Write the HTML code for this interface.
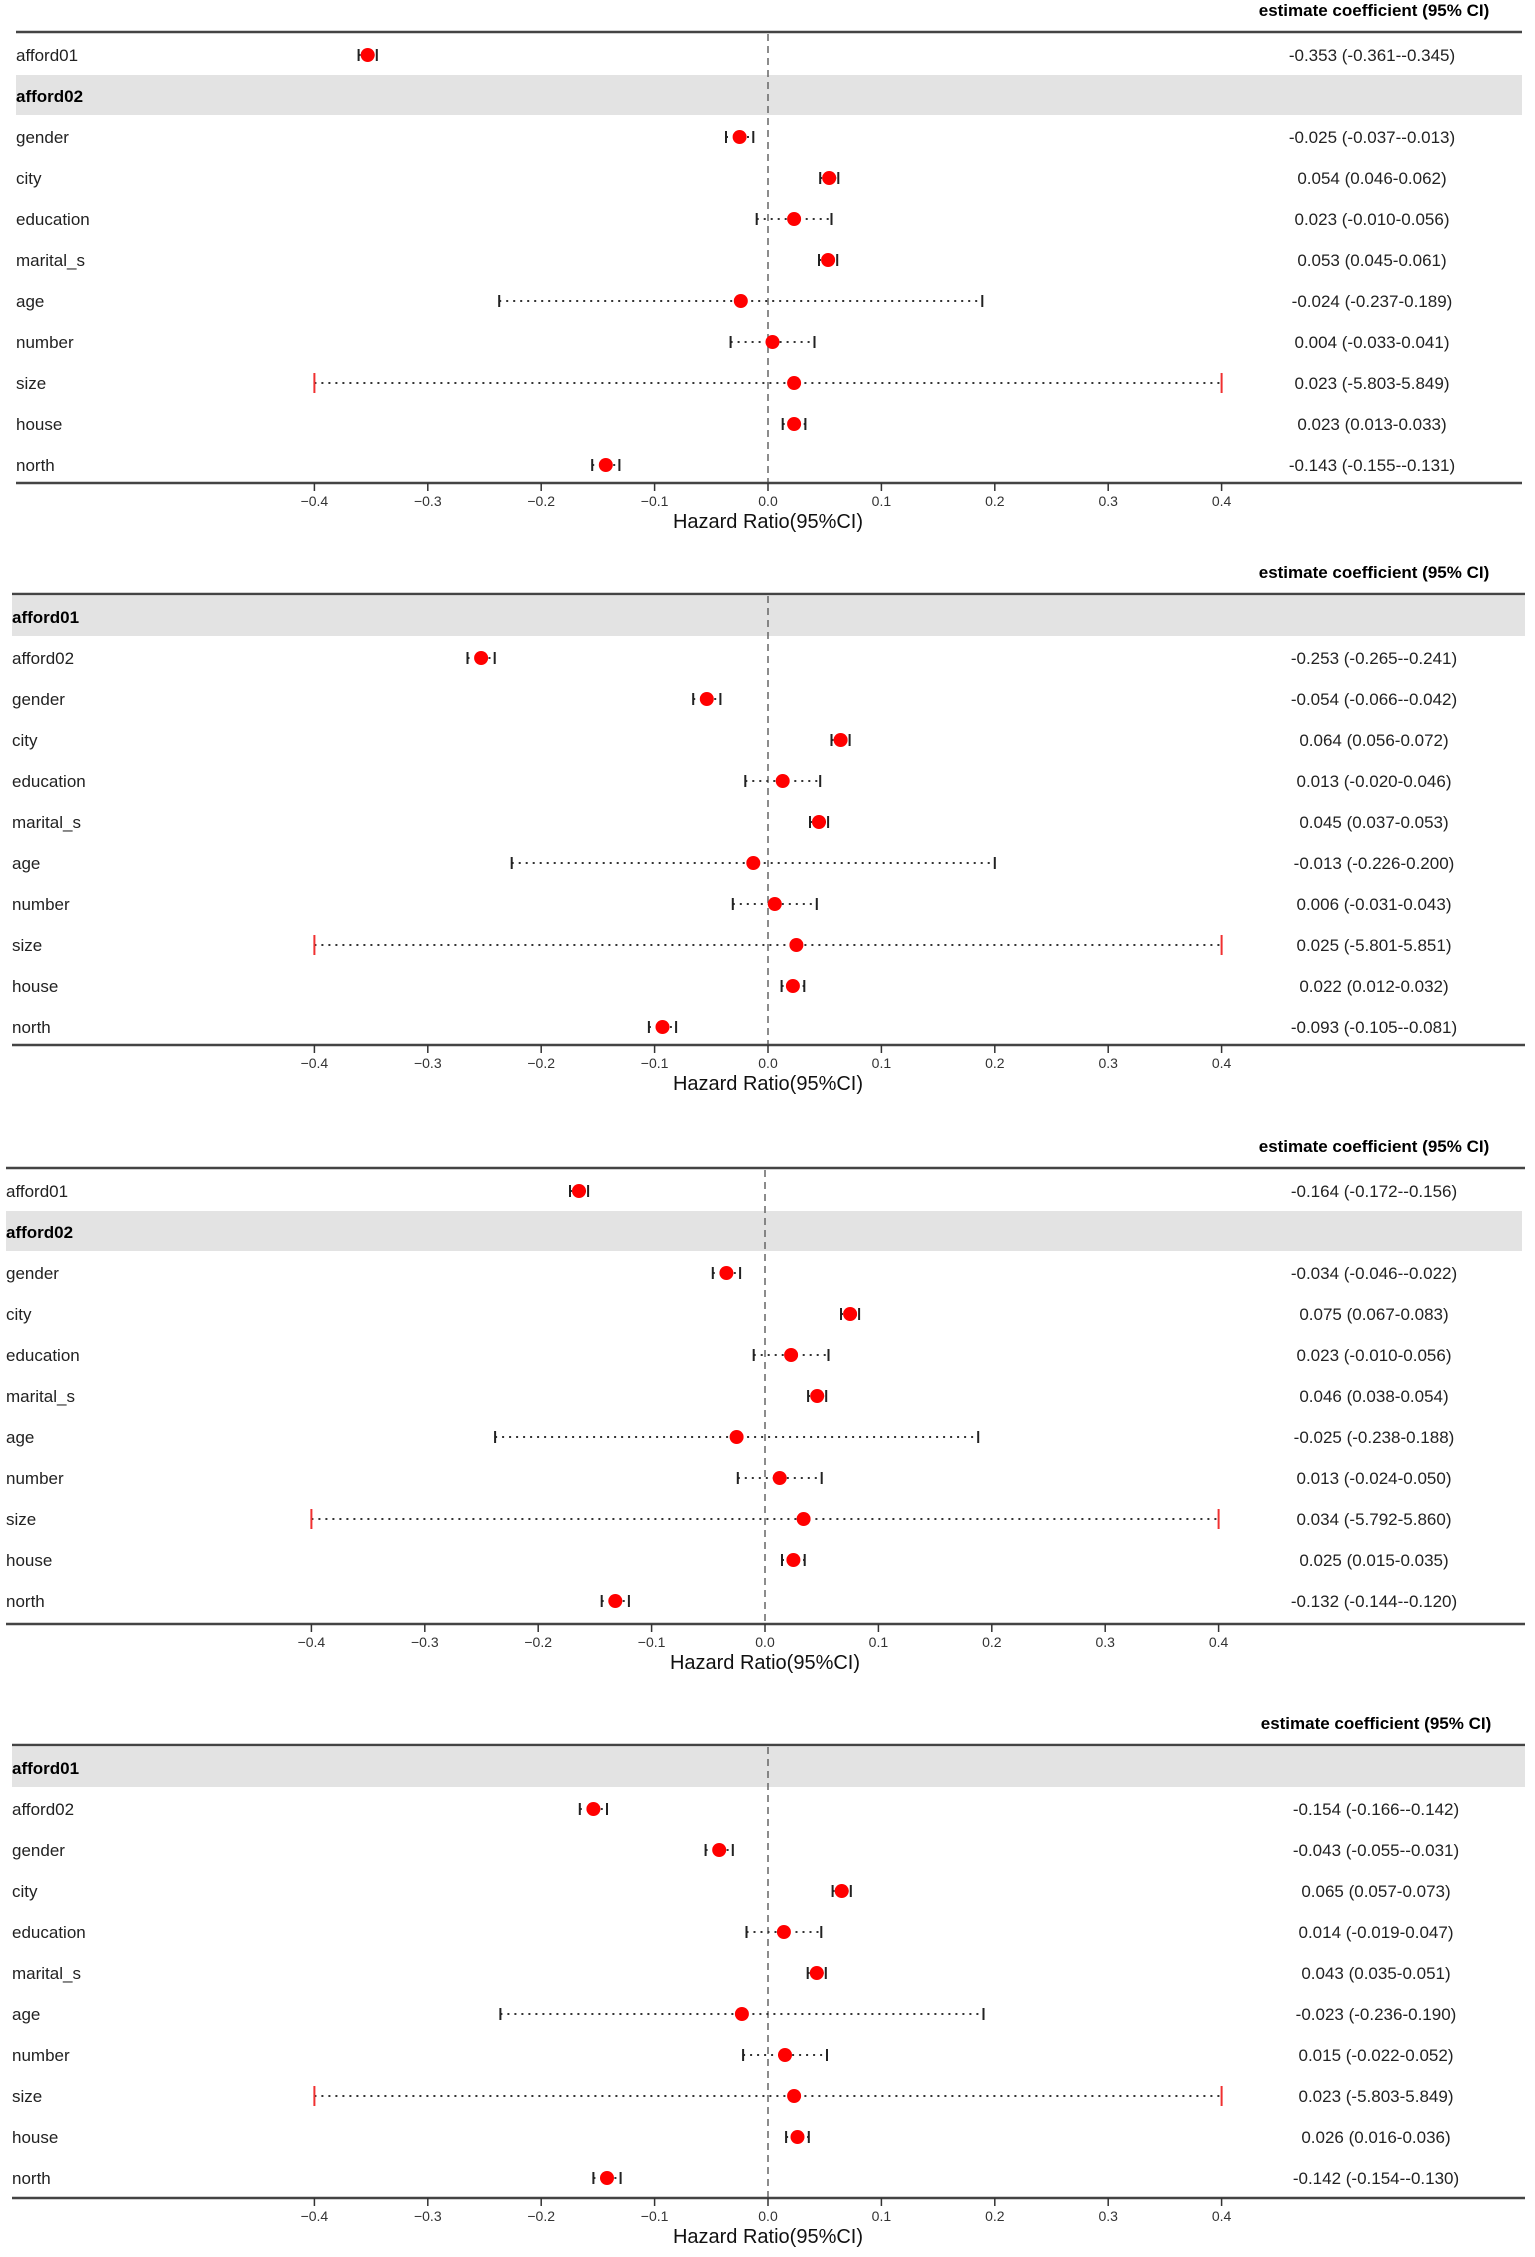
<!DOCTYPE html>
<html><head><meta charset="utf-8"><style>
html,body{margin:0;padding:0;background:#fff;}
svg{display:block;font-family:"Liberation Sans",Arial,sans-serif;}
.lab{font-size:17px;fill:#222;}
.b{font-weight:bold;fill:#000;}
.val{font-size:17px;fill:#222;text-anchor:middle;}
.hdr{font-size:17px;font-weight:bold;fill:#000;text-anchor:middle;}
.tk{font-size:14px;fill:#333;text-anchor:middle;}
.ax{font-size:20px;fill:#111;text-anchor:middle;}
.ci{stroke:#333;stroke-width:2;stroke-dasharray:2,5;}
.cap{stroke:#222;stroke-width:2;}
.rc{stroke:#f03030;stroke-width:2;}
.dot{fill:#ff0000;}
.hl{stroke:#444;stroke-width:2.5;}
.zero{stroke:#666;stroke-width:1.5;stroke-dasharray:7,5;}
.band{fill:#e3e3e3;}
</style></head><body>
<svg width="1535" height="2257" viewBox="0 0 1535 2257" xmlns="http://www.w3.org/2000/svg">

<!-- PANEL 1 -->
<g transform="translate(0,32)">
<text class="hdr" x="1374" y="-16">estimate coefficient (95% CI)</text>
<rect class="band" x="16" y="43" width="1506" height="40"/>
<line class="hl" x1="16" y1="0" x2="1522" y2="0"/>
<line class="zero" x1="768" y1="2" x2="768" y2="451"/>
<g>
<text class="lab" x="16" y="29">afford01</text>
<text class="lab b" x="16" y="70">afford02</text>
<text class="lab" x="16" y="111">gender</text>
<text class="lab" x="16" y="152">city</text>
<text class="lab" x="16" y="193">education</text>
<text class="lab" x="16" y="234">marital_s</text>
<text class="lab" x="16" y="275">age</text>
<text class="lab" x="16" y="316">number</text>
<text class="lab" x="16" y="357">size</text>
<text class="lab" x="16" y="398">house</text>
<text class="lab" x="16" y="439">north</text>
</g>
<g>
<text class="val" x="1372" y="29">-0.353 (-0.361--0.345)</text>
<text class="val" x="1372" y="111">-0.025 (-0.037--0.013)</text>
<text class="val" x="1372" y="152">0.054 (0.046-0.062)</text>
<text class="val" x="1372" y="193">0.023 (-0.010-0.056)</text>
<text class="val" x="1372" y="234">0.053 (0.045-0.061)</text>
<text class="val" x="1372" y="275">-0.024 (-0.237-0.189)</text>
<text class="val" x="1372" y="316">0.004 (-0.033-0.041)</text>
<text class="val" x="1372" y="357">0.023 (-5.803-5.849)</text>
<text class="val" x="1372" y="398">0.023 (0.013-0.033)</text>
<text class="val" x="1372" y="439">-0.143 (-0.155--0.131)</text>
</g>
<g>
<line class="ci" x1="358.6" y1="23" x2="376.8" y2="23"/><line class="cap" x1="358.6" y1="17" x2="358.6" y2="29"/><line class="cap" x1="376.8" y1="17" x2="376.8" y2="29"/><circle class="dot" cx="367.7" cy="23" r="7"/>
<line class="ci" x1="726" y1="105" x2="753.3" y2="105"/><line class="cap" x1="726" y1="99" x2="726" y2="111"/><line class="cap" x1="753.3" y1="99" x2="753.3" y2="111"/><circle class="dot" cx="739.6" cy="105" r="7"/>
<line class="ci" x1="820.2" y1="146" x2="838.3" y2="146"/><line class="cap" x1="820.2" y1="140" x2="820.2" y2="152"/><line class="cap" x1="838.3" y1="140" x2="838.3" y2="152"/><circle class="dot" cx="829.2" cy="146" r="7"/>
<line class="ci" x1="756.7" y1="187" x2="831.5" y2="187"/><line class="cap" x1="756.7" y1="181" x2="756.7" y2="193"/><line class="cap" x1="831.5" y1="181" x2="831.5" y2="193"/><circle class="dot" cx="794.1" cy="187" r="7"/>
<line class="ci" x1="819" y1="228" x2="837.2" y2="228"/><line class="cap" x1="819" y1="222" x2="819" y2="234"/><line class="cap" x1="837.2" y1="222" x2="837.2" y2="234"/><circle class="dot" cx="828.1" cy="228" r="7"/>
<line class="ci" x1="499.2" y1="269" x2="982.3" y2="269"/><line class="cap" x1="499.2" y1="263" x2="499.2" y2="275"/><line class="cap" x1="982.3" y1="263" x2="982.3" y2="275"/><circle class="dot" cx="740.8" cy="269" r="7"/>
<line class="ci" x1="730.6" y1="310" x2="814.5" y2="310"/><line class="cap" x1="730.6" y1="304" x2="730.6" y2="316"/><line class="cap" x1="814.5" y1="304" x2="814.5" y2="316"/><circle class="dot" cx="772.5" cy="310" r="7"/>
<line class="ci" x1="314.4" y1="351" x2="1221.6" y2="351"/><line class="rc" x1="314.4" y1="341" x2="314.4" y2="361"/><line class="rc" x1="1221.6" y1="341" x2="1221.6" y2="361"/><circle class="dot" cx="794.1" cy="351" r="7"/>
<line class="ci" x1="782.7" y1="392" x2="805.4" y2="392"/><line class="cap" x1="782.7" y1="386" x2="782.7" y2="398"/><line class="cap" x1="805.4" y1="386" x2="805.4" y2="398"/><circle class="dot" cx="794.1" cy="392" r="7"/>
<line class="ci" x1="592.2" y1="433" x2="619.4" y2="433"/><line class="cap" x1="592.2" y1="427" x2="592.2" y2="439"/><line class="cap" x1="619.4" y1="427" x2="619.4" y2="439"/><circle class="dot" cx="605.8" cy="433" r="7"/>
</g>
<line class="hl" x1="16" y1="451" x2="1522" y2="451"/>
<g stroke="#333" stroke-width="1.5"><line x1="314.4" y1="451" x2="314.4" y2="459"/><line x1="427.8" y1="451" x2="427.8" y2="459"/><line x1="541.2" y1="451" x2="541.2" y2="459"/><line x1="654.6" y1="451" x2="654.6" y2="459"/><line x1="768" y1="451" x2="768" y2="459"/><line x1="881.4" y1="451" x2="881.4" y2="459"/><line x1="994.8" y1="451" x2="994.8" y2="459"/><line x1="1108.2" y1="451" x2="1108.2" y2="459"/><line x1="1221.6" y1="451" x2="1221.6" y2="459"/></g>
<text class="tk" x="314.4" y="474">−0.4</text><text class="tk" x="427.8" y="474">−0.3</text><text class="tk" x="541.2" y="474">−0.2</text><text class="tk" x="654.6" y="474">−0.1</text><text class="tk" x="768" y="474">0.0</text><text class="tk" x="881.4" y="474">0.1</text><text class="tk" x="994.8" y="474">0.2</text><text class="tk" x="1108.2" y="474">0.3</text><text class="tk" x="1221.6" y="474">0.4</text>
<text class="ax" x="768" y="496">Hazard Ratio(95%CI)</text>
</g>

<!-- PANEL 2 -->
<g transform="translate(0,594)">
<text class="hdr" x="1374" y="-16">estimate coefficient (95% CI)</text>
<rect class="band" x="12" y="2" width="1513" height="40"/>
<line class="hl" x1="12" y1="0" x2="1525" y2="0"/>
<line class="zero" x1="768" y1="2" x2="768" y2="451"/>
<g>
<text class="lab b" x="12" y="29">afford01</text>
<text class="lab" x="12" y="70">afford02</text>
<text class="lab" x="12" y="111">gender</text>
<text class="lab" x="12" y="152">city</text>
<text class="lab" x="12" y="193">education</text>
<text class="lab" x="12" y="234">marital_s</text>
<text class="lab" x="12" y="275">age</text>
<text class="lab" x="12" y="316">number</text>
<text class="lab" x="12" y="357">size</text>
<text class="lab" x="12" y="398">house</text>
<text class="lab" x="12" y="439">north</text>
</g>
<g>
<text class="val" x="1374" y="70">-0.253 (-0.265--0.241)</text>
<text class="val" x="1374" y="111">-0.054 (-0.066--0.042)</text>
<text class="val" x="1374" y="152">0.064 (0.056-0.072)</text>
<text class="val" x="1374" y="193">0.013 (-0.020-0.046)</text>
<text class="val" x="1374" y="234">0.045 (0.037-0.053)</text>
<text class="val" x="1374" y="275">-0.013 (-0.226-0.200)</text>
<text class="val" x="1374" y="316">0.006 (-0.031-0.043)</text>
<text class="val" x="1374" y="357">0.025 (-5.801-5.851)</text>
<text class="val" x="1374" y="398">0.022 (0.012-0.032)</text>
<text class="val" x="1374" y="439">-0.093 (-0.105--0.081)</text>
</g>
<g>
<line class="ci" x1="467.5" y1="64" x2="494.7" y2="64"/><line class="cap" x1="467.5" y1="58" x2="467.5" y2="70"/><line class="cap" x1="494.7" y1="58" x2="494.7" y2="70"/><circle class="dot" cx="481.1" cy="64" r="7"/>
<line class="ci" x1="693.2" y1="105" x2="720.4" y2="105"/><line class="cap" x1="693.2" y1="99" x2="693.2" y2="111"/><line class="cap" x1="720.4" y1="99" x2="720.4" y2="111"/><circle class="dot" cx="706.8" cy="105" r="7"/>
<line class="ci" x1="831.5" y1="146" x2="849.6" y2="146"/><line class="cap" x1="831.5" y1="140" x2="831.5" y2="152"/><line class="cap" x1="849.6" y1="140" x2="849.6" y2="152"/><circle class="dot" cx="840.6" cy="146" r="7"/>
<line class="ci" x1="745.3" y1="187" x2="820.2" y2="187"/><line class="cap" x1="745.3" y1="181" x2="745.3" y2="193"/><line class="cap" x1="820.2" y1="181" x2="820.2" y2="193"/><circle class="dot" cx="782.7" cy="187" r="7"/>
<line class="ci" x1="810" y1="228" x2="828.1" y2="228"/><line class="cap" x1="810" y1="222" x2="810" y2="234"/><line class="cap" x1="828.1" y1="222" x2="828.1" y2="234"/><circle class="dot" cx="819" cy="228" r="7"/>
<line class="ci" x1="511.7" y1="269" x2="994.8" y2="269"/><line class="cap" x1="511.7" y1="263" x2="511.7" y2="275"/><line class="cap" x1="994.8" y1="263" x2="994.8" y2="275"/><circle class="dot" cx="753.3" cy="269" r="7"/>
<line class="ci" x1="732.8" y1="310" x2="816.8" y2="310"/><line class="cap" x1="732.8" y1="304" x2="732.8" y2="316"/><line class="cap" x1="816.8" y1="304" x2="816.8" y2="316"/><circle class="dot" cx="774.8" cy="310" r="7"/>
<line class="ci" x1="314.4" y1="351" x2="1221.6" y2="351"/><line class="rc" x1="314.4" y1="341" x2="314.4" y2="361"/><line class="rc" x1="1221.6" y1="341" x2="1221.6" y2="361"/><circle class="dot" cx="796.4" cy="351" r="7"/>
<line class="ci" x1="781.6" y1="392" x2="804.3" y2="392"/><line class="cap" x1="781.6" y1="386" x2="781.6" y2="398"/><line class="cap" x1="804.3" y1="386" x2="804.3" y2="398"/><circle class="dot" cx="792.9" cy="392" r="7"/>
<line class="ci" x1="648.9" y1="433" x2="676.1" y2="433"/><line class="cap" x1="648.9" y1="427" x2="648.9" y2="439"/><line class="cap" x1="676.1" y1="427" x2="676.1" y2="439"/><circle class="dot" cx="662.5" cy="433" r="7"/>
</g>
<line class="hl" x1="12" y1="451" x2="1525" y2="451"/>
<g stroke="#333" stroke-width="1.5"><line x1="314.4" y1="451" x2="314.4" y2="459"/><line x1="427.8" y1="451" x2="427.8" y2="459"/><line x1="541.2" y1="451" x2="541.2" y2="459"/><line x1="654.6" y1="451" x2="654.6" y2="459"/><line x1="768" y1="451" x2="768" y2="459"/><line x1="881.4" y1="451" x2="881.4" y2="459"/><line x1="994.8" y1="451" x2="994.8" y2="459"/><line x1="1108.2" y1="451" x2="1108.2" y2="459"/><line x1="1221.6" y1="451" x2="1221.6" y2="459"/></g>
<text class="tk" x="314.4" y="474">−0.4</text><text class="tk" x="427.8" y="474">−0.3</text><text class="tk" x="541.2" y="474">−0.2</text><text class="tk" x="654.6" y="474">−0.1</text><text class="tk" x="768" y="474">0.0</text><text class="tk" x="881.4" y="474">0.1</text><text class="tk" x="994.8" y="474">0.2</text><text class="tk" x="1108.2" y="474">0.3</text><text class="tk" x="1221.6" y="474">0.4</text>
<text class="ax" x="768" y="496">Hazard Ratio(95%CI)</text>
</g>

<!-- PANEL 3 -->
<g transform="translate(-3,1168)">
<text class="hdr" x="1377" y="-16">estimate coefficient (95% CI)</text>
<rect class="band" x="9" y="43" width="1516" height="40"/>
<line class="hl" x1="9" y1="0" x2="1528" y2="0"/>
<line class="zero" x1="768" y1="2" x2="768" y2="456"/>
<g>
<text class="lab" x="9" y="29">afford01</text>
<text class="lab b" x="9" y="70">afford02</text>
<text class="lab" x="9" y="111">gender</text>
<text class="lab" x="9" y="152">city</text>
<text class="lab" x="9" y="193">education</text>
<text class="lab" x="9" y="234">marital_s</text>
<text class="lab" x="9" y="275">age</text>
<text class="lab" x="9" y="316">number</text>
<text class="lab" x="9" y="357">size</text>
<text class="lab" x="9" y="398">house</text>
<text class="lab" x="9" y="439">north</text>
</g>
<g>
<text class="val" x="1377" y="29">-0.164 (-0.172--0.156)</text>
<text class="val" x="1377" y="111">-0.034 (-0.046--0.022)</text>
<text class="val" x="1377" y="152">0.075 (0.067-0.083)</text>
<text class="val" x="1377" y="193">0.023 (-0.010-0.056)</text>
<text class="val" x="1377" y="234">0.046 (0.038-0.054)</text>
<text class="val" x="1377" y="275">-0.025 (-0.238-0.188)</text>
<text class="val" x="1377" y="316">0.013 (-0.024-0.050)</text>
<text class="val" x="1377" y="357">0.034 (-5.792-5.860)</text>
<text class="val" x="1377" y="398">0.025 (0.015-0.035)</text>
<text class="val" x="1377" y="439">-0.132 (-0.144--0.120)</text>
</g>
<g>
<line class="ci" x1="573" y1="23" x2="591.1" y2="23"/><line class="cap" x1="573" y1="17" x2="573" y2="29"/><line class="cap" x1="591.1" y1="17" x2="591.1" y2="29"/><circle class="dot" cx="582" cy="23" r="7"/>
<line class="ci" x1="715.8" y1="105" x2="743.1" y2="105"/><line class="cap" x1="715.8" y1="99" x2="715.8" y2="111"/><line class="cap" x1="743.1" y1="99" x2="743.1" y2="111"/><circle class="dot" cx="729.4" cy="105" r="7"/>
<line class="ci" x1="844" y1="146" x2="862.1" y2="146"/><line class="cap" x1="844" y1="140" x2="844" y2="152"/><line class="cap" x1="862.1" y1="140" x2="862.1" y2="152"/><circle class="dot" cx="853.1" cy="146" r="7"/>
<line class="ci" x1="756.7" y1="187" x2="831.5" y2="187"/><line class="cap" x1="756.7" y1="181" x2="756.7" y2="193"/><line class="cap" x1="831.5" y1="181" x2="831.5" y2="193"/><circle class="dot" cx="794.1" cy="187" r="7"/>
<line class="ci" x1="811.1" y1="228" x2="829.2" y2="228"/><line class="cap" x1="811.1" y1="222" x2="811.1" y2="234"/><line class="cap" x1="829.2" y1="222" x2="829.2" y2="234"/><circle class="dot" cx="820.2" cy="228" r="7"/>
<line class="ci" x1="498.1" y1="269" x2="981.2" y2="269"/><line class="cap" x1="498.1" y1="263" x2="498.1" y2="275"/><line class="cap" x1="981.2" y1="263" x2="981.2" y2="275"/><circle class="dot" cx="739.6" cy="269" r="7"/>
<line class="ci" x1="740.8" y1="310" x2="824.7" y2="310"/><line class="cap" x1="740.8" y1="304" x2="740.8" y2="316"/><line class="cap" x1="824.7" y1="304" x2="824.7" y2="316"/><circle class="dot" cx="782.7" cy="310" r="7"/>
<line class="ci" x1="314.4" y1="351" x2="1221.6" y2="351"/><line class="rc" x1="314.4" y1="341" x2="314.4" y2="361"/><line class="rc" x1="1221.6" y1="341" x2="1221.6" y2="361"/><circle class="dot" cx="806.6" cy="351" r="7"/>
<line class="ci" x1="785" y1="392" x2="807.7" y2="392"/><line class="cap" x1="785" y1="386" x2="785" y2="398"/><line class="cap" x1="807.7" y1="386" x2="807.7" y2="398"/><circle class="dot" cx="796.4" cy="392" r="7"/>
<line class="ci" x1="604.7" y1="433" x2="631.9" y2="433"/><line class="cap" x1="604.7" y1="427" x2="604.7" y2="439"/><line class="cap" x1="631.9" y1="427" x2="631.9" y2="439"/><circle class="dot" cx="618.3" cy="433" r="7"/>
</g>
<line class="hl" x1="9" y1="456" x2="1528" y2="456"/>
<g stroke="#333" stroke-width="1.5"><line x1="314.4" y1="456" x2="314.4" y2="464"/><line x1="427.8" y1="456" x2="427.8" y2="464"/><line x1="541.2" y1="456" x2="541.2" y2="464"/><line x1="654.6" y1="456" x2="654.6" y2="464"/><line x1="768" y1="456" x2="768" y2="464"/><line x1="881.4" y1="456" x2="881.4" y2="464"/><line x1="994.8" y1="456" x2="994.8" y2="464"/><line x1="1108.2" y1="456" x2="1108.2" y2="464"/><line x1="1221.6" y1="456" x2="1221.6" y2="464"/></g>
<text class="tk" x="314.4" y="479">−0.4</text><text class="tk" x="427.8" y="479">−0.3</text><text class="tk" x="541.2" y="479">−0.2</text><text class="tk" x="654.6" y="479">−0.1</text><text class="tk" x="768" y="479">0.0</text><text class="tk" x="881.4" y="479">0.1</text><text class="tk" x="994.8" y="479">0.2</text><text class="tk" x="1108.2" y="479">0.3</text><text class="tk" x="1221.6" y="479">0.4</text>
<text class="ax" x="768" y="501">Hazard Ratio(95%CI)</text>
</g>

<!-- PANEL 4 -->
<g transform="translate(0,1745)">
<text class="hdr" x="1376" y="-16">estimate coefficient (95% CI)</text>
<rect class="band" x="12" y="2" width="1513" height="40"/>
<line class="hl" x1="12" y1="0" x2="1525" y2="0"/>
<line class="zero" x1="768" y1="2" x2="768" y2="453"/>
<g>
<text class="lab b" x="12" y="29">afford01</text>
<text class="lab" x="12" y="70">afford02</text>
<text class="lab" x="12" y="111">gender</text>
<text class="lab" x="12" y="152">city</text>
<text class="lab" x="12" y="193">education</text>
<text class="lab" x="12" y="234">marital_s</text>
<text class="lab" x="12" y="275">age</text>
<text class="lab" x="12" y="316">number</text>
<text class="lab" x="12" y="357">size</text>
<text class="lab" x="12" y="398">house</text>
<text class="lab" x="12" y="439">north</text>
</g>
<g>
<text class="val" x="1376" y="70">-0.154 (-0.166--0.142)</text>
<text class="val" x="1376" y="111">-0.043 (-0.055--0.031)</text>
<text class="val" x="1376" y="152">0.065 (0.057-0.073)</text>
<text class="val" x="1376" y="193">0.014 (-0.019-0.047)</text>
<text class="val" x="1376" y="234">0.043 (0.035-0.051)</text>
<text class="val" x="1376" y="275">-0.023 (-0.236-0.190)</text>
<text class="val" x="1376" y="316">0.015 (-0.022-0.052)</text>
<text class="val" x="1376" y="357">0.023 (-5.803-5.849)</text>
<text class="val" x="1376" y="398">0.026 (0.016-0.036)</text>
<text class="val" x="1376" y="439">-0.142 (-0.154--0.130)</text>
</g>
<g>
<line class="ci" x1="579.8" y1="64" x2="607" y2="64"/><line class="cap" x1="579.8" y1="58" x2="579.8" y2="70"/><line class="cap" x1="607" y1="58" x2="607" y2="70"/><circle class="dot" cx="593.4" cy="64" r="7"/>
<line class="ci" x1="705.6" y1="105" x2="732.8" y2="105"/><line class="cap" x1="705.6" y1="99" x2="705.6" y2="111"/><line class="cap" x1="732.8" y1="99" x2="732.8" y2="111"/><circle class="dot" cx="719.2" cy="105" r="7"/>
<line class="ci" x1="832.6" y1="146" x2="850.8" y2="146"/><line class="cap" x1="832.6" y1="140" x2="832.6" y2="152"/><line class="cap" x1="850.8" y1="140" x2="850.8" y2="152"/><circle class="dot" cx="841.7" cy="146" r="7"/>
<line class="ci" x1="746.5" y1="187" x2="821.3" y2="187"/><line class="cap" x1="746.5" y1="181" x2="746.5" y2="193"/><line class="cap" x1="821.3" y1="181" x2="821.3" y2="193"/><circle class="dot" cx="783.9" cy="187" r="7"/>
<line class="ci" x1="807.7" y1="228" x2="825.8" y2="228"/><line class="cap" x1="807.7" y1="222" x2="807.7" y2="234"/><line class="cap" x1="825.8" y1="222" x2="825.8" y2="234"/><circle class="dot" cx="816.8" cy="228" r="7"/>
<line class="ci" x1="500.4" y1="269" x2="983.5" y2="269"/><line class="cap" x1="500.4" y1="263" x2="500.4" y2="275"/><line class="cap" x1="983.5" y1="263" x2="983.5" y2="275"/><circle class="dot" cx="741.9" cy="269" r="7"/>
<line class="ci" x1="743.1" y1="310" x2="827" y2="310"/><line class="cap" x1="743.1" y1="304" x2="743.1" y2="316"/><line class="cap" x1="827" y1="304" x2="827" y2="316"/><circle class="dot" cx="785" cy="310" r="7"/>
<line class="ci" x1="314.4" y1="351" x2="1221.6" y2="351"/><line class="rc" x1="314.4" y1="341" x2="314.4" y2="361"/><line class="rc" x1="1221.6" y1="341" x2="1221.6" y2="361"/><circle class="dot" cx="794.1" cy="351" r="7"/>
<line class="ci" x1="786.1" y1="392" x2="808.8" y2="392"/><line class="cap" x1="786.1" y1="386" x2="786.1" y2="398"/><line class="cap" x1="808.8" y1="386" x2="808.8" y2="398"/><circle class="dot" cx="797.5" cy="392" r="7"/>
<line class="ci" x1="593.4" y1="433" x2="620.6" y2="433"/><line class="cap" x1="593.4" y1="427" x2="593.4" y2="439"/><line class="cap" x1="620.6" y1="427" x2="620.6" y2="439"/><circle class="dot" cx="607" cy="433" r="7"/>
</g>
<line class="hl" x1="12" y1="453" x2="1525" y2="453"/>
<g stroke="#333" stroke-width="1.5"><line x1="314.4" y1="453" x2="314.4" y2="461"/><line x1="427.8" y1="453" x2="427.8" y2="461"/><line x1="541.2" y1="453" x2="541.2" y2="461"/><line x1="654.6" y1="453" x2="654.6" y2="461"/><line x1="768" y1="453" x2="768" y2="461"/><line x1="881.4" y1="453" x2="881.4" y2="461"/><line x1="994.8" y1="453" x2="994.8" y2="461"/><line x1="1108.2" y1="453" x2="1108.2" y2="461"/><line x1="1221.6" y1="453" x2="1221.6" y2="461"/></g>
<text class="tk" x="314.4" y="476">−0.4</text><text class="tk" x="427.8" y="476">−0.3</text><text class="tk" x="541.2" y="476">−0.2</text><text class="tk" x="654.6" y="476">−0.1</text><text class="tk" x="768" y="476">0.0</text><text class="tk" x="881.4" y="476">0.1</text><text class="tk" x="994.8" y="476">0.2</text><text class="tk" x="1108.2" y="476">0.3</text><text class="tk" x="1221.6" y="476">0.4</text>
<text class="ax" x="768" y="498">Hazard Ratio(95%CI)</text>
</g>
</svg>
</body></html>
